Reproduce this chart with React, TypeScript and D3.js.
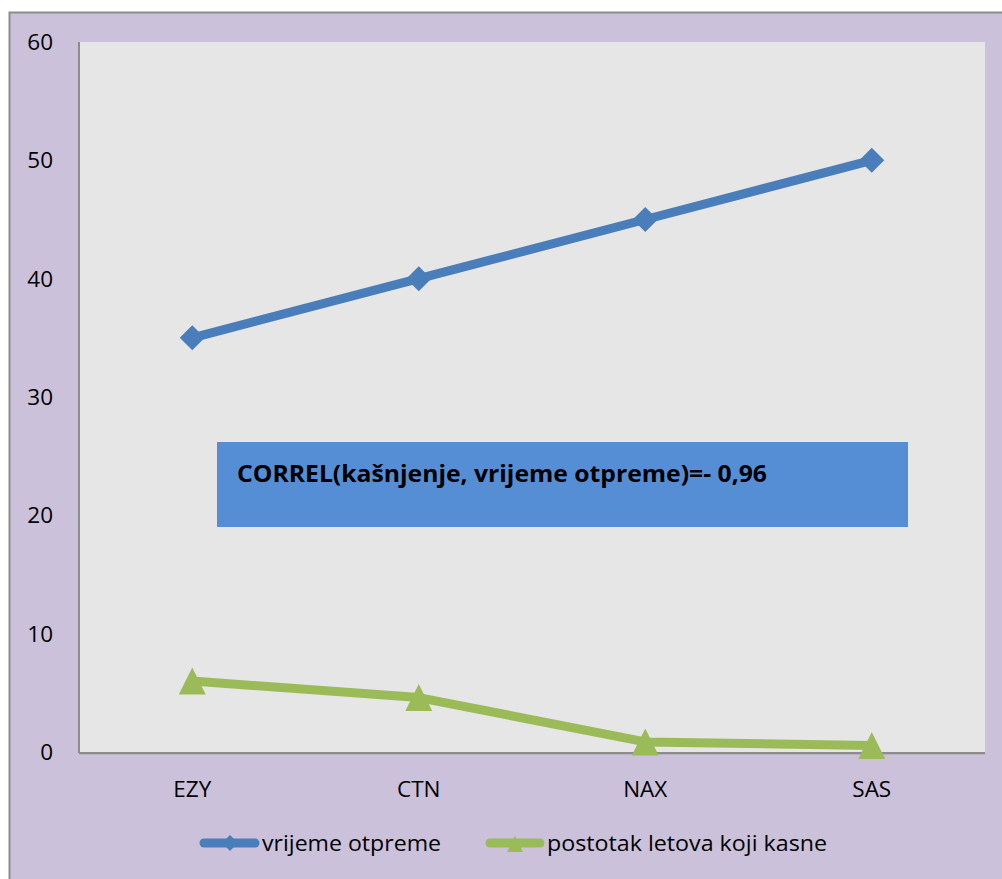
import React from "react";
import { scaleBand, scaleLinear, line } from "d3";

const categories = ["EZY", "CTN", "NAX", "SAS"];
const vrijemeOtpreme = [35, 40, 45, 50];
const postotakKasne = [6.0, 4.6, 0.85, 0.55];
const yTicks = [0, 10, 20, 30, 40, 50, 60];
const seriesNames = ["vrijeme otpreme", "postotak letova koji kasne"];
const noteText = "CORREL(kašnjenje, vrijeme otpreme)=- 0,96";

const W = 1002;
const H = 879;
const plot = { left: 79, right: 985, top: 42, bottom: 752 };
const font = "'Open Sans', 'Noto Sans', sans-serif";
const blue = "#4a7ebb";
const green = "#9bbb59";

// marker shapes, centred on 0,0
const diamondPath = (r: number) => `M0,${-r}L${r},0L0,${r}L${-r},0Z`;
const trianglePath = (w: number, h: number) =>
  `M0,${-h / 2}L${w / 2},${h / 2}L${-w / 2},${h / 2}Z`;

const App: React.FC = () => {
  const x = scaleBand<string>()
    .domain(categories)
    .range([plot.left, plot.right]);
  const y = scaleLinear().domain([0, 60]).range([plot.bottom, plot.top]);

  const cx = (c: string) => (x(c) as number) + x.bandwidth() / 2;

  const path = line<number>()
    .x((_, i) => cx(categories[i]))
    .y((d) => y(d));

  return (
    <svg
      width={W}
      height={H}
      style={{ position: "absolute", left: 0, top: 0 }}
    >
      <rect x={0} y={0} width={W} height={H} fill="#ffffff" />
      <rect x={9.5} y={12.5} width={W} height={H} fill="#ccc1da" stroke="#8c8c8c" strokeWidth={2} />

      {/* plot area */}
      <rect
        x={plot.left}
        y={plot.top}
        width={plot.right - plot.left}
        height={plot.bottom - plot.top}
        fill="#e6e6e6"
      />
      <line x1={plot.left} x2={plot.left} y1={plot.top} y2={plot.bottom + 1} stroke="#8c8c8c" strokeWidth={2} />
      <line x1={plot.left} x2={plot.right} y1={plot.bottom + 1} y2={plot.bottom + 1} stroke="#8c8c8c" strokeWidth={2} />
      <line x1={plot.left} x2={plot.right} y1={plot.bottom + 2.5} y2={plot.bottom + 2.5} stroke="#b8b0c4" strokeWidth={1} />

      {yTicks.map((t) => (
        <text
          key={`y${t}`}
          x={53}
          y={y(t)}
          dy="0.36em"
          textAnchor="end"
          fontFamily={font}
          fontSize={22.5}
          fill="#000"
        >
          {t}
        </text>
      ))}

      {categories.map((c) => (
        <text
          key={c}
          x={cx(c)}
          y={797}
          textAnchor="middle"
          fontFamily={font}
          fontSize={22.5}
          fill="#000"
        >
          {c}
        </text>
      ))}

      {/* correlation note */}
      <rect x={217} y={442} width={691} height={85} fill="#558ed5" />
      <text
        x={237}
        y={482}
        fontFamily={font}
        fontWeight="bold"
        fontSize={24}
        textLength={530}
        lengthAdjust="spacingAndGlyphs"
        fill="#000"
      >
        {noteText}
      </text>

      {/* series */}
      <path d={path(vrijemeOtpreme) as string} fill="none" stroke={blue} strokeWidth={9} strokeLinejoin="round" />
      {vrijemeOtpreme.map((v, i) => (
        <path
          key={`b${i}`}
          d={diamondPath(12.5)}
          transform={`translate(${cx(categories[i])},${y(v)})`}
          fill={blue}
        />
      ))}
      <path d={path(postotakKasne) as string} fill="none" stroke={green} strokeWidth={9} strokeLinejoin="round" />
      {postotakKasne.map((v, i) => (
        <path
          key={`g${i}`}
          d={trianglePath(27, 27)}
          transform={`translate(${cx(categories[i])},${y(v)})`}
          fill={green}
        />
      ))}

      {/* legend */}
      <line x1={204} x2={255} y1={843} y2={843} stroke={blue} strokeWidth={9} strokeLinecap="round" />
      <path d={diamondPath(8)} transform="translate(230,843)" fill={blue} />
      <text x={262} y={851} fontFamily={font} fontSize={21.5} textLength={179} lengthAdjust="spacingAndGlyphs" fill="#000">
        {seriesNames[0]}
      </text>
      <line x1={490} x2={540} y1={843} y2={843} stroke={green} strokeWidth={9} strokeLinecap="round" />
      <path d={trianglePath(16, 16)} transform="translate(515,844)" fill={green} />
      <text x={547} y={851} fontFamily={font} fontSize={21.5} textLength={280} lengthAdjust="spacingAndGlyphs" fill="#000">
        {seriesNames[1]}
      </text>
    </svg>
  );
};

export default App;
